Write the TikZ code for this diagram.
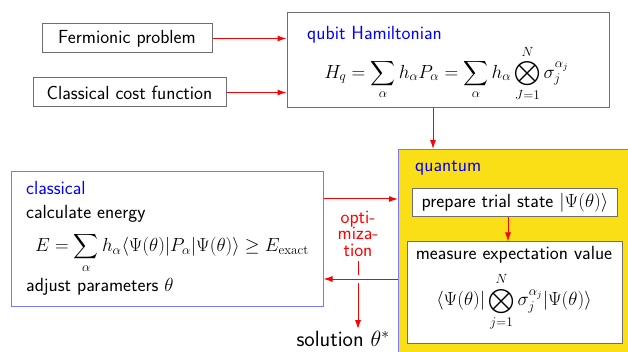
\RequirePackage{fix-cm}
\documentclass[tikz,border=0pt]{standalone}
\usepackage{amsmath}
\usepackage{fontspec}
\usetikzlibrary{arrows.meta}
\definecolor{qyellow}{RGB}{250,222,22}
\definecolor{bordergray}{RGB}{110,110,110}
\definecolor{lightblue}{RGB}{120,120,250}
\begin{document}
\begin{tikzpicture}[x=1pt,y=-1pt,
  every node/.style={font=\fontsize{19}{23}\selectfont\sffamily},
  graybox/.style={draw=bordergray,line width=1pt,fill=white,inner sep=0pt},
  redline/.style={draw=red,line width=1pt},
  arr/.style={redline,-{Latex[length=9pt,width=6pt]}},
  ttl/.style={text=blue,anchor=west,inner sep=0pt},
  txt/.style={anchor=west,inner sep=0pt}]
\useasboundingbox (0,0) rectangle (628,352);
\clip (0,0) rectangle (628,352);
% quantum box
\node[draw=lightblue,line width=1pt,fill=qyellow,minimum width=260pt,minimum height=230pt,inner sep=0pt] (quant) at (528.5,264.5) {};
\node[ttl] (qlabel) at (415,168) {quantum};
\node[graybox,minimum width=205pt,minimum height=28pt] (prep) at (515,203) {prepare trial state $|\Psi(\theta)\rangle$};
\node[graybox,minimum width=215pt,minimum height=101pt] (meas) at (514.5,292.5) {};
\node[inner sep=0pt] (meastxt) at (514,255) {measure expectation value};
\node[inner sep=0pt] (measf) at (514,302) {$\displaystyle \langle\Psi(\theta)|\bigotimes_{j=1}^{N}\sigma_j^{\alpha_j}|\Psi(\theta)\rangle$};
% top
\node[graybox,minimum width=170pt,minimum height=29pt] (fermi) at (127,38.5) {Fermionic problem};
\node[graybox,minimum width=193pt,minimum height=29pt] (cost) at (129.5,92.5) {Classical cost function};
\node[graybox,minimum width=322pt,minimum height=95pt] (ham) at (448,60.5) {};
\node[ttl] (hlabel) at (307,35) {qubit Hamiltonian};
\node[inner sep=0pt] (hform) at (446.5,73) {$\displaystyle H_q=\sum_\alpha h_\alpha P_\alpha=\sum_\alpha h_\alpha\bigotimes_{J=1}^{N}\sigma_j^{\alpha_j}$};
% classical
\node[draw=lightblue,line width=1pt,fill=white,minimum width=311.5pt,minimum height=135pt,inner sep=0pt] (cls) at (167.25,239) {};
\node[ttl] (clabel) at (26,188) {classical};
\node[txt] (calc) at (26,214) {calculate energy};
\node[inner sep=0pt,font=\fontsize{18.9}{22}\selectfont\sffamily] (eform) at (172,253) {$\displaystyle E=\sum_\alpha h_\alpha\langle\Psi(\theta)|P_\alpha|\Psi(\theta)\rangle\geq E_{\mathrm{exact}}$};
\node[txt] (adj) at (26,287) {adjust parameters $\theta$};
% optimization
\node[text=red,align=center,inner sep=0pt,font=\fontsize{19}{16.5}\selectfont\sffamily] (opt) at (358,233.5) {opti-\\miza-\\tion};
\node[inner sep=0pt,font=\fontsize{22}{26}\selectfont\sffamily] (sol) at (343,339) {solution $\theta^{*}$};
% arrows
\draw[arr] (fermi.east) -- (fermi.east -| ham.west);
\draw[arr] (cost.east) -- (cost.east -| ham.west);
\draw[arr] ([xshift=-15pt]ham.south) -- ([xshift=-15pt]ham.south |- quant.north);
\draw[arr] ([yshift=40pt]cls.east) -- ([yshift=40pt]cls.east -| quant.west);
\draw[arr] ([yshift=-40pt]cls.east -| quant.west) -- ([yshift=-40pt]cls.east);
\coordinate (cross) at ([yshift=-40pt]cls.east -| opt.south);
\draw[redline] ([yshift=-5pt]opt.south) -- ([yshift=4pt]cross);
\draw[arr] ([yshift=-4pt]cross) -- ([yshift=2pt]cross |- sol.north);
\draw[arr] ([xshift=-7pt]prep.south) -- ([xshift=-7pt]prep.south |- meas.north);
\end{tikzpicture}
\end{document}
